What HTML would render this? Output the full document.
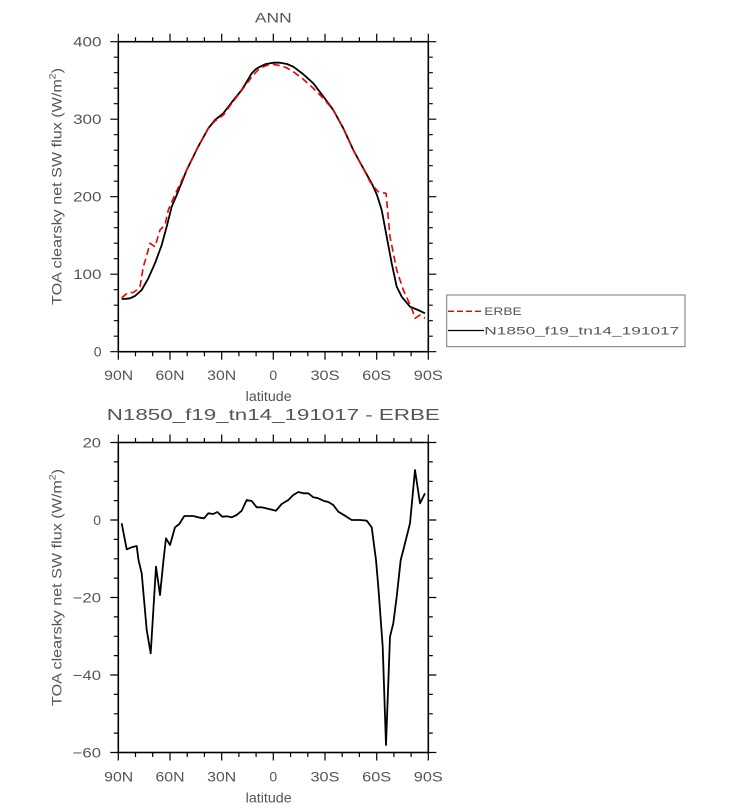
<!DOCTYPE html>
<html><head><meta charset="utf-8"><style>
html,body{margin:0;padding:0;background:#fff;}
svg{display:block;}
text{font-family:"Liberation Sans",sans-serif;fill:#555;}
</style></head><body>
<svg width="732" height="808" viewBox="0 0 732 808" xmlns="http://www.w3.org/2000/svg">
<!-- ===== TOP PLOT ===== -->
<text x="273.3" y="22.7" font-size="14" text-anchor="middle" textLength="36.7" lengthAdjust="spacingAndGlyphs">ANN</text>

<g stroke="#000" stroke-width="1.2" fill="none">
<path d="M118.3 41.7v-8M170 41.7v-8M221.7 41.7v-8M273.3 41.7v-8M325 41.7v-8M376.7 41.7v-8M428.3 41.7v-8
M135.5 41.7v-4.5M152.7 41.7v-4.5M187.2 41.7v-4.5M204.4 41.7v-4.5M238.9 41.7v-4.5M256.1 41.7v-4.5M290.6 41.7v-4.5M307.8 41.7v-4.5M342.2 41.7v-4.5M359.4 41.7v-4.5M393.9 41.7v-4.5M411.1 41.7v-4.5"/>
<path d="M118.3 351.7v8M170 351.7v8M221.7 351.7v8M273.3 351.7v8M325 351.7v8M376.7 351.7v8M428.3 351.7v8
M135.5 351.7v4.5M152.7 351.7v4.5M187.2 351.7v4.5M204.4 351.7v4.5M238.9 351.7v4.5M256.1 351.7v4.5M290.6 351.7v4.5M307.8 351.7v4.5M342.2 351.7v4.5M359.4 351.7v4.5M393.9 351.7v4.5M411.1 351.7v4.5"/>
<path d="M118.3 41.7h-8M118.3 119.2h-8M118.3 196.7h-8M118.3 274.2h-8M118.3 351.7h-8
M118.3 57.2h-4.5M118.3 72.7h-4.5M118.3 88.2h-4.5M118.3 103.7h-4.5M118.3 134.7h-4.5M118.3 150.2h-4.5M118.3 165.7h-4.5M118.3 181.2h-4.5M118.3 212.2h-4.5M118.3 227.7h-4.5M118.3 243.2h-4.5M118.3 258.7h-4.5M118.3 289.7h-4.5M118.3 305.2h-4.5M118.3 320.7h-4.5M118.3 336.2h-4.5"/>
<path d="M428.3 41.7h8M428.3 119.2h8M428.3 196.7h8M428.3 274.2h8M428.3 351.7h8
M428.3 57.2h4.5M428.3 72.7h4.5M428.3 88.2h4.5M428.3 103.7h4.5M428.3 134.7h4.5M428.3 150.2h4.5M428.3 165.7h4.5M428.3 181.2h4.5M428.3 212.2h4.5M428.3 227.7h4.5M428.3 243.2h4.5M428.3 258.7h4.5M428.3 289.7h4.5M428.3 305.2h4.5M428.3 320.7h4.5M428.3 336.2h4.5"/>
</g>
<rect x="118.3" y="41.7" width="310" height="310" fill="none" stroke="#000" stroke-width="1.6"/>

<g font-size="14" text-anchor="end">
<text x="101.5" y="46.7" textLength="28.4" lengthAdjust="spacingAndGlyphs">400</text>
<text x="101.5" y="124.2" textLength="28.4" lengthAdjust="spacingAndGlyphs">300</text>
<text x="101.5" y="201.7" textLength="28.4" lengthAdjust="spacingAndGlyphs">200</text>
<text x="101.5" y="279.2" textLength="28.4" lengthAdjust="spacingAndGlyphs">100</text>
<text x="101.5" y="356.7">0</text>
</g>
<g font-size="14" text-anchor="middle">
<text x="118.7" y="380" textLength="29" lengthAdjust="spacingAndGlyphs">90N</text>
<text x="170" y="380" textLength="29" lengthAdjust="spacingAndGlyphs">60N</text>
<text x="221.7" y="380" textLength="29" lengthAdjust="spacingAndGlyphs">30N</text>
<text x="273.3" y="380">0</text>
<text x="325" y="380" textLength="29" lengthAdjust="spacingAndGlyphs">30S</text>
<text x="376.7" y="380" textLength="29" lengthAdjust="spacingAndGlyphs">60S</text>
<text x="428.3" y="380" textLength="29" lengthAdjust="spacingAndGlyphs">90S</text>
</g>
<text x="268.7" y="401" font-size="13.5" text-anchor="middle" textLength="46" lengthAdjust="spacingAndGlyphs">latitude</text>
<text transform="translate(61.7,186.5) rotate(-90)" font-size="14" text-anchor="middle" textLength="237" lengthAdjust="spacingAndGlyphs">TOA clearsky net SW flux (W/m<tspan font-size="9" dy="-6">2</tspan><tspan dy="6">)</tspan></text>

<polyline fill="none" stroke="#000" stroke-width="1.8" stroke-linejoin="round" points="121.7,299 126,298.8 130,298.3 135,296 141.7,290 148.3,278.3 155,263.3 161.7,245 166.7,226.7 171.7,206.7 176.7,195 186.7,170 198,147 208.3,128.3 215,120 223.3,113.3 232,102 241.7,90 246,83 251.7,73.3 256,69 260,66.7 266,64 273.3,62.7 280,62.7 287,64 293.3,66.7 303,74 313.3,83.3 323,96 333.3,110 343.3,128.3 353.3,150 362,166 371.7,183.3 377,195 381.7,210 386.7,236.7 391.7,263.3 396.7,286.7 401.7,296.7 410,306.7 418,310 425,313.3"/>
<polyline fill="none" stroke="#e00" stroke-width="1.6" stroke-dasharray="7,4" stroke-linejoin="round" points="121.7,298 125,295 128.3,292.7 133.3,292.5 136.7,290 140,286.7 143.3,266.7 146,258 150,243.3 155,246.7 160,230 165,225 168.3,210 173.3,198.3 180,184 186.7,170 198,147 208.3,128.3 215,121 223.3,115 232,103 243.3,88.3 248,82 253.3,75 258,70 263.3,66.7 268,65 273.3,64.3 281.7,66 287,68 293.3,71.7 303,79 313.3,88.3 323,98 333.3,110 343.3,128.3 353.3,150 362,166 370,181.7 374,187 378.3,191.7 386,193.3 390,236.7 396.7,270 403.3,290 411.7,308.3 415,318.3 420,315 425,318.3"/>

<rect x="446.7" y="295" width="238.3" height="51.7" fill="#fff" stroke="#777" stroke-width="1"/>
<line x1="448" y1="311.3" x2="484" y2="311.3" stroke="#e00" stroke-width="1.3" stroke-dasharray="6,3"/>
<line x1="448" y1="330.5" x2="484" y2="330.5" stroke="#000" stroke-width="1.3"/>
<text x="484.3" y="315.2" font-size="11" textLength="37.3" lengthAdjust="spacingAndGlyphs">ERBE</text>
<text x="484.3" y="334.5" font-size="11" textLength="195" lengthAdjust="spacingAndGlyphs">N1850_f19_tn14_191017</text>

<!-- ===== BOTTOM PLOT ===== -->
<text x="273.3" y="420" font-size="15.5" text-anchor="middle" textLength="333" lengthAdjust="spacingAndGlyphs">N1850_f19_tn14_191017 - ERBE</text>

<g stroke="#000" stroke-width="1.2" fill="none">
<path d="M118.3 442.5v-8M170 442.5v-8M221.7 442.5v-8M273.3 442.5v-8M325 442.5v-8M376.7 442.5v-8M428.3 442.5v-8
M135.5 442.5v-4.5M152.7 442.5v-4.5M187.2 442.5v-4.5M204.4 442.5v-4.5M238.9 442.5v-4.5M256.1 442.5v-4.5M290.6 442.5v-4.5M307.8 442.5v-4.5M342.2 442.5v-4.5M359.4 442.5v-4.5M393.9 442.5v-4.5M411.1 442.5v-4.5"/>
<path d="M118.3 752.5v8M170 752.5v8M221.7 752.5v8M273.3 752.5v8M325 752.5v8M376.7 752.5v8M428.3 752.5v8
M135.5 752.5v4.5M152.7 752.5v4.5M187.2 752.5v4.5M204.4 752.5v4.5M238.9 752.5v4.5M256.1 752.5v4.5M290.6 752.5v4.5M307.8 752.5v4.5M342.2 752.5v4.5M359.4 752.5v4.5M393.9 752.5v4.5M411.1 752.5v4.5"/>
<path d="M118.3 442.5h-8M118.3 520h-8M118.3 597.5h-8M118.3 675h-8M118.3 752.5h-8
M118.3 461.9h-4.5M118.3 481.3h-4.5M118.3 500.6h-4.5M118.3 539.4h-4.5M118.3 558.8h-4.5M118.3 578.1h-4.5M118.3 616.9h-4.5M118.3 636.3h-4.5M118.3 655.6h-4.5M118.3 694.4h-4.5M118.3 713.8h-4.5M118.3 733.1h-4.5"/>
<path d="M428.3 442.5h8M428.3 520h8M428.3 597.5h8M428.3 675h8M428.3 752.5h8
M428.3 461.9h4.5M428.3 481.3h4.5M428.3 500.6h4.5M428.3 539.4h4.5M428.3 558.8h4.5M428.3 578.1h4.5M428.3 616.9h4.5M428.3 636.3h4.5M428.3 655.6h4.5M428.3 694.4h4.5M428.3 713.8h4.5M428.3 733.1h4.5"/>
</g>
<rect x="118.3" y="442.5" width="310" height="310" fill="none" stroke="#000" stroke-width="1.6"/>

<g font-size="14" text-anchor="end">
<text x="101" y="447.5" textLength="18.4" lengthAdjust="spacingAndGlyphs">20</text>
<text x="101" y="525">0</text>
<text x="101" y="602.5" textLength="28.3" lengthAdjust="spacingAndGlyphs">−20</text>
<text x="101" y="680" textLength="28.3" lengthAdjust="spacingAndGlyphs">−40</text>
<text x="101" y="757.5" textLength="28.3" lengthAdjust="spacingAndGlyphs">−60</text>
</g>
<g font-size="14" text-anchor="middle">
<text x="118.7" y="781.5" textLength="29" lengthAdjust="spacingAndGlyphs">90N</text>
<text x="170" y="781.5" textLength="29" lengthAdjust="spacingAndGlyphs">60N</text>
<text x="221.7" y="781.5" textLength="29" lengthAdjust="spacingAndGlyphs">30N</text>
<text x="273.3" y="781.5">0</text>
<text x="325" y="781.5" textLength="29" lengthAdjust="spacingAndGlyphs">30S</text>
<text x="376.7" y="781.5" textLength="29" lengthAdjust="spacingAndGlyphs">60S</text>
<text x="428.3" y="781.5" textLength="29" lengthAdjust="spacingAndGlyphs">90S</text>
</g>
<text x="268.7" y="802.5" font-size="13.5" text-anchor="middle" textLength="46" lengthAdjust="spacingAndGlyphs">latitude</text>
<text transform="translate(61.7,587.5) rotate(-90)" font-size="14" text-anchor="middle" textLength="237" lengthAdjust="spacingAndGlyphs">TOA clearsky net SW flux (W/m<tspan font-size="9" dy="-6">2</tspan><tspan dy="6">)</tspan></text>

<polyline fill="none" stroke="#000" stroke-width="1.8" stroke-linejoin="round" points="121.7,523.3 126.7,549.3 131.7,547.3 136.7,546 138.5,560 141.7,573.3 146.7,630 150.7,653.3 156,566.7 160,595 163.5,560 166,538.3 170,545 175,527.3 179.3,524 184.3,516 193.3,516 200,517.7 204,518.3 208.3,513.3 213.3,514 217.3,512 222.3,516.7 226.7,516.3 231.7,517.3 236.7,515 241.7,510.7 246.7,500 251.7,501 256.7,507.3 261.7,507.3 270,509.3 276,510.7 281.7,504 288.3,500 293.3,495 298.3,492 303.3,493.3 308.3,493.3 313.3,497.3 318.3,498.3 323.3,500.7 328.3,502 333.3,505 338.3,511.7 345,515.7 351.7,520 360,520 366.7,520.7 371.7,527.3 376,560 378.3,586.7 382.7,646.7 386,745 390,636.7 393.3,623.3 396.7,596.7 400.7,560 403.3,550 410,523.3 415,470 420,503.3 425,493.3"/>
</svg>
</body></html>
